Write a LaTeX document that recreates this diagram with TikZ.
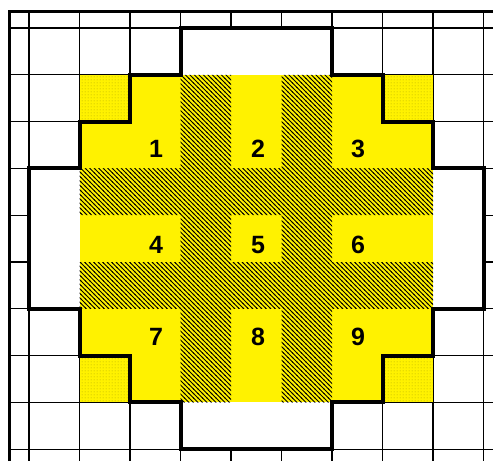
\documentclass[tikz,border=0pt]{standalone}
\usepackage{fontspec}
\setmainfont{Liberation Sans}
\usetikzlibrary{patterns}
\pgfdeclarepatternformonly{hatchnw}{\pgfpoint{-1pt}{-1pt}}{\pgfpoint{5.5pt}{5.5pt}}{\pgfpoint{4.5pt}{4.5pt}}{%
  \pgfsetlinewidth{1.0pt}%
  \pgfpathmoveto{\pgfpoint{-0.5pt}{5pt}}%
  \pgfpathlineto{\pgfpoint{5pt}{-0.5pt}}%
  \pgfusepath{stroke}}
\pgfdeclarepatternformonly{stipple}{\pgfpoint{0pt}{0pt}}{\pgfpoint{3pt}{3pt}}{\pgfpoint{3pt}{3pt}}{%
  \pgfpathrectangle{\pgfpoint{1pt}{1pt}}{\pgfpoint{0.8pt}{0.8pt}}%
  \pgfusepath{fill}}
\tikzset{
  gridline/.style={line width=1.2pt, draw=black},
  borderline/.style={line width=3pt, line join=miter},
  outlinestroke/.style={line width=4pt, line join=miter},
  yellowarea/.style={fill=yellow},
  hatcharea/.style={pattern=hatchnw, pattern color=black},
  stipplearea/.style={pattern=stipple, pattern color=black!70!yellow},
  numlabel/.style={font=\fontsize{25}{25}\selectfont\bfseries, inner sep=0pt}
}
\begin{document}
\begin{tikzpicture}[x=50.5pt, y=-46.8pt]
\useasboundingbox (-0.5743,-0.5983) rectangle (9.1881,9.2521);
% grid
\foreach \i in {0,...,9} \draw[gridline] (\i,-0.363) -- (\i,9.2521);
\foreach \j in {0,...,9} \draw[gridline] (-0.386,\j) -- (9.1881,\j);
% thick border left and top
\draw[borderline] (-0.386,9.2521) -- (-0.386,-0.363) -- (9.1881,-0.363);
% white interior of the cross outline
\path[fill=white] (3,0) -- (6,0) -- (6,1) -- (7,1) -- (7,2) -- (8,2) -- (8,3) -- (9,3) -- (9,6) -- (8,6) -- (8,7) -- (7,7) -- (7,8) -- (6,8) -- (6,9) -- (3,9) -- (3,8) -- (2,8) -- (2,7) -- (1,7) -- (1,6) -- (0,6) -- (0,3) -- (1,3) -- (1,2) -- (2,2) -- (2,1) -- (3,1) -- cycle;
% yellow area
\fill[yellowarea] (1,1) rectangle (8,8);
% stippled corners
\fill[stipplearea] (1,1) rectangle (2,2) (7,1) rectangle (8,2) (1,7) rectangle (2,8) (7,7) rectangle (8,8);
% hatched stripes (one path, so crossings are painted once)
\fill[hatcharea, nonzero rule] (3,1) rectangle (4,8) (5,1) rectangle (6,8) (1,3) rectangle (8,4) (1,5) rectangle (8,6);
% cross outline
\draw[outlinestroke] (3,0) -- (6,0) -- (6,1) -- (7,1) -- (7,2) -- (8,2) -- (8,3) -- (9,3) -- (9,6) -- (8,6) -- (8,7) -- (7,7) -- (7,8) -- (6,8) -- (6,9) -- (3,9) -- (3,8) -- (2,8) -- (2,7) -- (1,7) -- (1,6) -- (0,6) -- (0,3) -- (1,3) -- (1,2) -- (2,2) -- (2,1) -- (3,1) -- cycle;
% numbers
\node[numlabel] (n1) at (2.515,2.585) {1};
\node[numlabel] (n2) at (4.535,2.585) {2};
\node[numlabel] (n3) at (6.515,2.585) {3};
\node[numlabel] (n4) at (2.515,4.637) {4};
\node[numlabel] (n5) at (4.535,4.637) {5};
\node[numlabel] (n6) at (6.515,4.637) {6};
\node[numlabel] (n7) at (2.515,6.603) {7};
\node[numlabel] (n8) at (4.535,6.603) {8};
\node[numlabel] (n9) at (6.515,6.603) {9};
\end{tikzpicture}
\end{document}
